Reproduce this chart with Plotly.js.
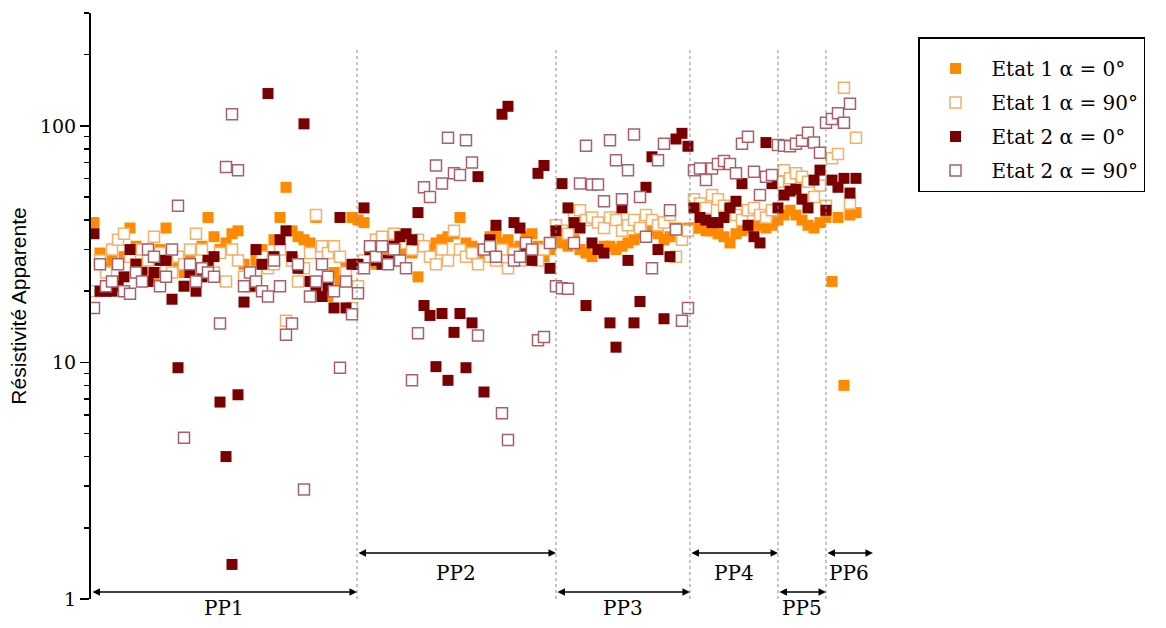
<!DOCTYPE html>
<html><head><meta charset="utf-8">
<script src="https://cdn.plot.ly/plotly-3.0.1.min.js"></script>
<style>html,body{margin:0;padding:0;background:#fff}#chart{width:1166px;height:628px}</style>
</head><body><div id="chart"></div>
<script>
// Apparent resistivity per measurement (index along the profile), sections PP1..PP6
const etat1_a0 = [
  39,29,25,27,22,28,37,31,25,27,23,30,37,28,26,24,29,22,31,41,34,30,32,35,36,26,24,27,30,28,33,41,55,36,34,33,32,41,26,19,24,22,25,41,
  40,39,28,26,30,32,27,29,30,29,23,31,30,32,33,34,35,41,32,31,30,28,34,35,32,33,30,31,34,35,31,28,30,
  33,32,31,33,30,29,28,30,31,31,30,31,32,33,35,34,36,35,33,34,37,36,37,
  37,37,36,36,35,34,32,35,36,37,38,38,37,38,
  40,42,44,42,40,38,37,39,
  41,22,41,8,42,43
];
const etat1_a90 = [
  20,27,24,30,33,35,28,26,30,27,34,29,25,24,28,26,30,35,30,26,24,29,22,30,27,23,21,24,28,25,26,30,15,27,22,25,29,42,31,29,31,28,24,17,
  21,27,30,33,34,31,35,34,32,30,33,31,28,26,30,27,36,30,28,29,26,30,28,27,30,25,29,27,30,28,27,30,32,
  38,36,35,42,44,40,41,39,37,41,40,36,38,40,37,42,40,38,39,42,28,33,36,
  49,47,45,51,49,46,44,42,40,44,45,42,41,44,
  58,65,60,63,61,58,50,56,
  46,73,76,145,47,89
];
const etat2_a0 = [
  35,20,20,20,21,23,30,26,24,22,24,27,27,18.5,9.5,21,24,20,23,27,28,6.8,4.0,1.4,7.3,18,21,30,26,137,28,33,36,28,25,102,22,21,19,21,17,41,17,26,
  26,45,30,27,26,27,31,34,35,33,43,17.4,15.8,9.6,16.1,8.4,13.4,16.1,9.5,14.7,61,7.5,33,38,112,121,39,37,30,27,63,68,25,
  36,57,45,39,37,17.4,32,30,29,14.7,11.6,45,27,14.7,18.1,55,74,30,15.3,28,88,93,82,
  45,41,40,39,39,41,45,48,57,38,34,32,85,57,
  45,51,53,54,49,45,59,65,
  44,59,55,60,52,60
];
const etat2_a90 = [
  17,26,21,22,26,20,19.5,24,22,30,28,21,23,30,46,4.8,26,22,25,24,23,14.6,67,112,65,21,24,22,20,19,27,21,13.1,14.6,26,2.9,19,22,26,23,20,9.5,22,16,
  19.6,25,31,28,31,26,30,27,25,8.4,13.3,55,50,68,57,89,63,62,87,70,13,30,31,28,6.1,4.7,27,28,32,30,12.4,12.8,32,
  21,20.6,20.5,32,57,82.5,56.5,56.5,48,87,71.5,49,65,92,50,34,25,71.5,84,44,36.5,15,17,
  65,66,59,66,69,71,69,63,84,90,64,51,61,62,
  83,82.5,82,84,86.5,93.5,85,77,
  103,107,113,103,124,null
];
const seriesNames = ['Etat 1 \u03b1 = 0\u00b0','Etat 1 \u03b1 = 90\u00b0','Etat 2 \u03b1 = 0\u00b0','Etat 2 \u03b1 = 90\u00b0'];
// Section limits along the measurement index
const sectionLabels = ['PP1','PP2','PP3','PP4','PP5','PP6'];
const sectionStart = [-0.5, 43.83, 77.0, 99.33, 114.0, 122.0];
const sectionEnd   = [43.83, 77.0, 99.33, 114.0, 122.0, 129.83];

const colors = ['#FF8A00', '#F2B068', '#7A0000', '#A8606A'];
const filled = [true, false, true, false];
const allY = [etat1_a0, etat1_a90, etat2_a0, etat2_a90];

const idx = etat1_a0.map((_, i) => i);
const traces = allY.map((y, k) => ({
  type: 'scatter', mode: 'markers', name: seriesNames[k], legendgroup: 'g' + k,
  x: idx, y: y,
  marker: {
    symbol: 'square', size: 11,
    color: filled[k] ? colors[k] : '#ffffff',
    line: {color: colors[k], width: filled[k] ? 0 : 1.5}
  }
}));

const serif = "'DejaVu Serif', serif";
const sans = "'Liberation Sans', Arial, sans-serif";
const shapes = sectionEnd.slice(0, 5).map(b => ({
  type: 'line', xref: 'x', yref: 'paper', x0: b, x1: b, y0: 0, y1: 0.942,
  line: {color: '#8a8a8a', width: 1, dash: 'dot'}
}));

const rowArrowY = [0.012, 0.0785];
const rowLabelY = [-0.0154, 0.0444];
const annotations = [];
sectionLabels.forEach((lab, k) => {
  const row = k % 2;
  annotations.push({
    xref: 'x', yref: 'paper', x: sectionEnd[k], y: rowArrowY[row],
    axref: 'x', ax: sectionStart[k], ayref: 'pixel', ay: 0,
    showarrow: true, arrowhead: 2, arrowside: 'end+start', arrowsize: 1,
    arrowwidth: 1.5, arrowcolor: '#000', text: '', standoff: 0, startstandoff: 0
  });
  annotations.push({
    xref: 'x', yref: 'paper', x: (sectionStart[k] + sectionEnd[k]) / 2, y: rowLabelY[row],
    text: lab, showarrow: false, yanchor: 'middle',
    font: {family: serif, size: 20, color: '#000'}
  });
});

const minorVals = [2,3,4,5,6,7,8,9,20,30,40,50,60,70,80,90,200,300];

const layout = {
  width: 1166, height: 628,
  margin: {l: 91, r: 291, t: 13, b: 29},
  paper_bgcolor: '#fff', plot_bgcolor: '#fff',
  showlegend: true,
  xaxis: {range: [-0.5, 130.17], visible: false, showgrid: false, zeroline: false},
  yaxis: {
    type: 'log', range: [0, Math.log10(300)],
    showline: true, linewidth: 2, linecolor: '#000',
    showgrid: false, zeroline: false,
    ticks: 'outside', ticklen: 9, tickwidth: 1.5, tickcolor: '#000',
    tickmode: 'array', tickvals: [1, 10, 100], ticktext: ['1', '10', '100'],
    tickfont: {family: serif, size: 19, color: '#000'},
    minor: {tickmode: 'array', tickvals: minorVals, ticks: 'outside', ticklen: 5, tickwidth: 1.5, tickcolor: '#000', showgrid: false},
    title: {text: 'Résistivité Apparente', font: {family: sans, size: 21, color: '#000'}, standoff: 8}
  },
  legend: {
    xref: 'container', yref: 'container',
    x: 918 / 1166, y: 1 - 37 / 628, xanchor: 'left', yanchor: 'top',
    bordercolor: '#000', borderwidth: 1.5, bgcolor: '#fff',
    font: {family: serif, size: 20, color: '#000'},
    title: {text: '\u00a0', font: {family: serif, size: 8}},
    itemwidth: 62, tracegroupgap: 5
  },
  shapes: shapes,
  annotations: annotations
};

Plotly.newPlot('chart', traces, layout, {displayModeBar: false, staticPlot: true});
</script>
</body></html>
